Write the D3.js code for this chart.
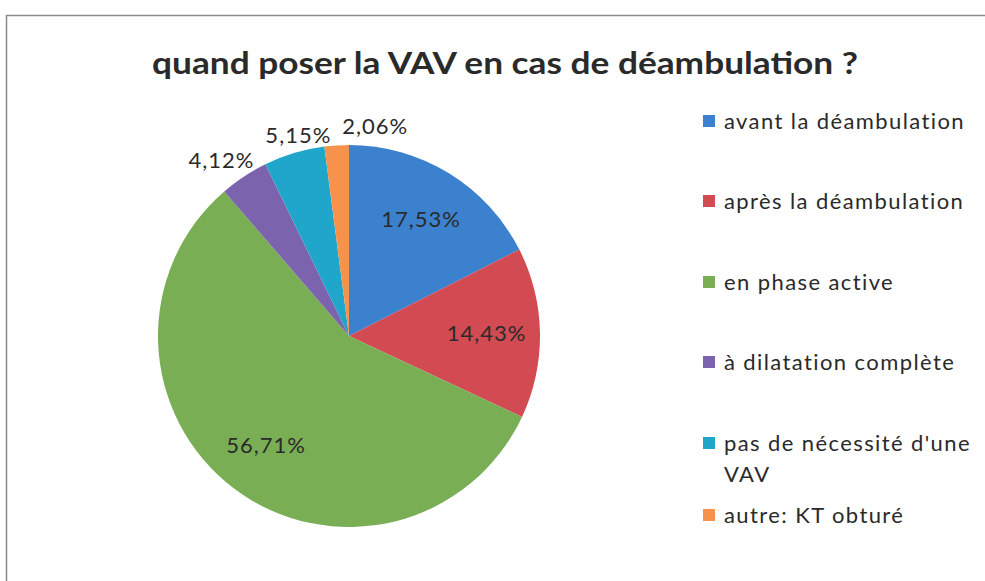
<!DOCTYPE html>
<html>
<head>
<meta charset="utf-8">
<title>quand poser la VAV</title>
<style>
body { margin: 0; background: #fff; }
svg { display: block; }
</style>
<script src="https://cdnjs.cloudflare.com/ajax/libs/d3/7.8.5/d3.min.js"></script>
</head>
<body>
<svg id="chart" width="985" height="581"></svg>
<script>
var categories = ["avant la déambulation", "après la déambulation", "en phase active",
	"à dilatation complète", "pas de nécessité d'une VAV", "autre: KT obturé"];
var values = [17.53, 14.43, 56.71, 4.12, 5.15, 2.06];
var labels = ["17,53%", "14,43%", "56,71%", "4,12%", "5,15%", "2,06%"];
var colors = ["#3c81cd", "#d24b52", "#79ae55", "#7b63ae", "#1fa6ca", "#f6924c"];

var svg = d3.select("#chart");
var font = "Lato, 'Open Sans', sans-serif";
var ink = "#2a2a2a";

// frame
svg.append("path")
	.attr("d", "M6.5,581 L6.5,15.5 L985,15.5")
	.attr("fill", "none")
	.attr("stroke", "#8a8a8a")
	.attr("stroke-width", 1.5);

svg.append("text")
	.attr("x", 505)
	.attr("y", 74)
	.attr("text-anchor", "middle")
	.attr("font-family", font)
	.attr("font-weight", "bold")
	.attr("font-size", 30)
	.attr("textLength", 706)
	.attr("lengthAdjust", "spacingAndGlyphs")
	.attr("fill", ink)
	.text("quand poser la VAV en cas de déambulation ?");

var cx = 349, cy = 336, r = 191;
var g = svg.append("g").attr("transform", "translate(" + cx + "," + cy + ")");

var pie = d3.pie().sort(null).value(function(d){ return d; });
var arcs = pie(values);
var arc = d3.arc().innerRadius(0).outerRadius(r);

g.selectAll("path.slice")
	.data(arcs)
	.enter().append("path")
	.attr("class", "slice")
	.attr("d", arc)
	.attr("fill", function(d, i){ return colors[i]; });

// inside labels for big slices, outside ones sit off the rim
var inner = d3.arc().innerRadius(r * 0.72).outerRadius(r * 0.72);
var rim = d3.arc().innerRadius(r + 8).outerRadius(r + 8);

var lbls = g.selectAll("text.lbl")
	.data(arcs)
	.enter().append("text")
	.attr("class", "lbl")
	.attr("text-anchor", "middle")
	.attr("dy", "0.35em")
	.attr("font-family", font)
	.attr("font-size", 22)
	.attr("letter-spacing", 1)
	.attr("fill", ink)
	.text(function(d, i){ return labels[i]; });

var prevRight = null;
lbls.each(function(d, i){
	var p;
	if (values[i] > 10) {
		p = inner.centroid(d);
	} else {
		var w = this.getComputedTextLength(), h = 22;
		var a = (d.startAngle + d.endAngle) / 2;
		p = rim.centroid(d);
		p[0] += Math.sin(a) * w / 2;
		p[1] -= Math.cos(a) * h / 2;
		// push right if it runs into the previous outside label
		if (prevRight !== null && p[0] - w / 2 < prevRight + 11) p[0] = prevRight + 11 + w / 2;
		prevRight = p[0] + w / 2;
	}
	d3.select(this).attr("transform", "translate(" + p[0] + "," + p[1] + ")");
});

// legend
var legY = [121, 201, 282, 362, 443, 515];
var leg = svg.append("g");
categories.forEach(function(c, i){
	leg.append("rect")
		.attr("x", 703)
		.attr("y", legY[i] - 6)
		.attr("width", 12)
		.attr("height", 12)
		.attr("fill", colors[i]);
	var t = leg.append("text")
		.attr("x", 724)
		.attr("y", legY[i])
		.attr("dy", "0.35em")
		.attr("font-family", font)
		.attr("font-size", 22)
		.attr("letter-spacing", 1.4)
		.attr("fill", ink);
	if (c.indexOf("VAV") > 0) {
		t.append("tspan").text("pas de nécessité d'une");
		t.append("tspan").attr("x", 724).attr("dy", 31).text("VAV");
	} else {
		t.text(c);
	}
});
</script>
</body>
</html>
